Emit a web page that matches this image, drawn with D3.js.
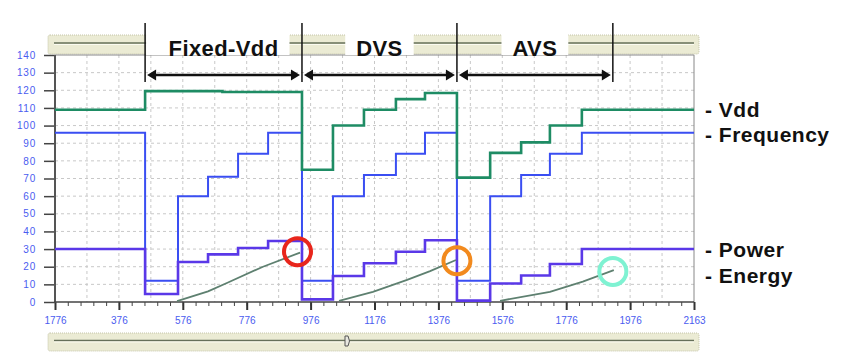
<!DOCTYPE html>
<html>
<head>
<meta charset="utf-8">
<script src="https://cdn.jsdelivr.net/npm/d3@7"></script>
<style>
  body { margin: 0; background: #fff; }
  svg { display: block; font-family: 'Liberation Sans', Arial, sans-serif; }
  .grid line { stroke: #c8c8c8; stroke-dasharray: 3, 3; }
  .tickLabel { fill: #4a5cf0; font-size: 10px; }
</style>
</head>
<body>
<svg id="chart" width="850" height="362"></svg>
<script>
// data (x = sample index, y = value)
const yTicks = [0, 10, 20, 30, 40, 50, 60, 70, 80, 90, 100, 110, 120, 130, 140];
const xTicks = [176, 376, 576, 776, 976, 1176, 1376, 1576, 1776, 1976, 2176];
const xTickLabels = ['1776', '376', '576', '776', '976', '1176', '1376', '1576', '1776', '1976', '2163'];

const phaseBounds = [458, 949, 1434, 1922];
const phaseNames = ['Fixed-Vdd', 'DVS', 'AVS'];

const vdd = [[176, 109], [458, 119.5], [700, 119], [949, 75], [1046, 100], [1143, 109], [1243, 115],
  [1334, 118.5], [1434, 70.5], [1538, 84.5], [1635, 90.5], [1725, 100], [1825, 109], [2176, 109]];
const freq = [[176, 96], [458, 12], [561, 60], [655, 71], [749, 84], [843, 96], [949, 12], [1046, 60],
  [1143, 72], [1243, 84], [1334, 96], [1434, 12], [1538, 60], [1635, 72], [1725, 84], [1825, 96], [2176, 96]];
const power = [[176, 30], [458, 4.5], [561, 22.7], [655, 27], [749, 30.6], [843, 34.6], [949, 1.5],
  [1046, 14.7], [1143, 22], [1243, 28.5], [1334, 35], [1434, 0.8], [1538, 10.5], [1635, 15],
  [1725, 21.5], [1825, 30], [2176, 30]];
const energy = [
  [[558, 0.5], [655, 6], [714, 10.8], [827, 20], [943, 28]],
  [[1065, 0.7], [1171, 5.8], [1278, 12.5], [1350, 17.5], [1431, 23.8]],
  [[1569, 0.7], [1725, 5.8], [1828, 11.5], [1925, 18.1]]
];
const marks = [[935, 28.5, '#e8261c'], [1434, 23.4, '#f28a1e'], [1922, 17.3, '#7ff2d2']];

const seriesLabels = [['- Vdd', 109], ['- Frequency', 95], ['- Power', 30], ['- Energy', 15]];

const colors = { vdd: '#1e8c64', freq: '#3a4ef2', power: '#5a38e8', energy: '#5e8070' };

const svg = d3.select('#chart');

const xScale = d3.scaleLinear().domain([176, 2176]).range([55, 694]);
const yScale = d3.scaleLinear().domain([0, 140]).range([302, 55]);

// top and bottom bars
function drawBar(y, h) {
  const g = svg.append('g');
  g.append('rect')
    .attr('x', 48).attr('y', y).attr('width', 651).attr('height', h).attr('rx', 2)
    .attr('fill', '#ebebd4').attr('stroke', '#c4c4a8').attr('stroke-dasharray', '1,1');
  g.append('line')
    .attr('x1', 54).attr('x2', 694).attr('y1', y + h / 2 - 1.5).attr('y2', y + h / 2 - 1.5)
    .attr('stroke', '#66705a').attr('stroke-width', 1.3);
  g.append('line')
    .attr('x1', 54).attr('x2', 694).attr('y1', y + h / 2).attr('y2', y + h / 2)
    .attr('stroke', '#fbfbf0').attr('stroke-width', 1);
  return g;
}
drawBar(35, 19);
const bottomBar = drawBar(333, 18);
bottomBar.append('path')
  .attr('d', 'M345,336 h3 q3,5 0,10 h-3 z')
  .attr('fill', '#e8e8e0').attr('stroke', '#555').attr('stroke-width', 1);

// grid
svg.append('g').attr('class', 'grid')
  .selectAll('line').data(yTicks.filter(d => d > 0 && d < 140)).join('line')
  .attr('x1', 55).attr('x2', 694)
  .attr('y1', d => yScale(d)).attr('y2', d => yScale(d));
svg.append('g').attr('class', 'grid')
  .selectAll('line').data(d3.range(276, 2176, 100)).join('line')
  .attr('x1', d => xScale(d)).attr('x2', d => xScale(d))
  .attr('y1', 55).attr('y2', 302);

// frame
svg.append('line').attr('x1', 55).attr('x2', 694).attr('y1', 55).attr('y2', 55).attr('stroke', '#888');
svg.append('line').attr('x1', 694).attr('x2', 694).attr('y1', 55).attr('y2', 302).attr('stroke', '#888');

// axes
const yAxis = svg.append('g')
  .attr('transform', 'translate(55,0)')
  .call(d3.axisLeft(yScale).tickValues(yTicks).tickSize(11).tickPadding(8));
yAxis.select('.domain').remove();
yAxis.selectAll('.tick line').attr('stroke', '#444').attr('stroke-width', 1.5);
yAxis.selectAll('.tick text').attr('class', 'tickLabel').attr('font-family', null).attr('font-size', null)
  .style('letter-spacing', '0.8px');

const xMinor = svg.append('g')
  .attr('transform', 'translate(0,302)')
  .call(d3.axisBottom(xScale).tickValues(d3.range(216, 2176, 40)).tickSize(4).tickFormat(''));
xMinor.select('.domain').remove();
xMinor.selectAll('.tick line').attr('stroke', '#444');

const xAxis = svg.append('g')
  .attr('transform', 'translate(0,302)')
  .call(d3.axisBottom(xScale).tickValues(xTicks).tickSize(8).tickPadding(7)
    .tickFormat((d, i) => xTickLabels[i]));
xAxis.select('.domain').remove();
xAxis.selectAll('.tick line').attr('stroke', '#333').attr('stroke-width', 2);
xAxis.selectAll('.tick text').attr('class', 'tickLabel').attr('font-family', null).attr('font-size', null);

svg.append('line').attr('x1', 55).attr('x2', 55).attr('y1', 55).attr('y2', 303)
  .attr('stroke', '#555').attr('stroke-width', 2);
svg.append('line').attr('x1', 54).attr('x2', 694).attr('y1', 302).attr('y2', 302)
  .attr('stroke', '#444').attr('stroke-width', 1.5);

// lines
const stepLine = d3.line()
  .x(d => xScale(d[0]))
  .y(d => yScale(d[1]))
  .curve(d3.curveStepAfter);
const smoothLine = d3.line()
  .x(d => xScale(d[0]))
  .y(d => yScale(d[1]));

svg.append('path').datum(freq).attr('d', stepLine)
  .attr('fill', 'none').attr('stroke', colors.freq).attr('stroke-width', 2);
svg.append('path').datum(power).attr('d', stepLine)
  .attr('fill', 'none').attr('stroke', colors.power).attr('stroke-width', 2.6);
svg.append('path').datum(vdd).attr('d', stepLine)
  .attr('fill', 'none').attr('stroke', colors.vdd).attr('stroke-width', 2.6);
svg.append('g').selectAll('path').data(energy).join('path')
  .attr('d', smoothLine)
  .attr('fill', 'none').attr('stroke', colors.energy).attr('stroke-width', 1.8);

// highlight circles
svg.append('g').selectAll('circle').data(marks).join('circle')
  .attr('cx', d => xScale(d[0])).attr('cy', d => yScale(d[1])).attr('r', 13.5)
  .attr('fill', 'none').attr('stroke', d => d[2]).attr('stroke-width', 4);

// phase annotations
const ann = svg.append('g');
ann.selectAll('line.bound').data(phaseBounds).join('line').attr('class', 'bound')
  .attr('x1', d => xScale(d)).attr('x2', d => xScale(d))
  .attr('y1', 23).attr('y2', 82)
  .attr('stroke', '#111').attr('stroke-width', 1.5);

phaseNames.forEach((name, i) => {
  const x0 = xScale(phaseBounds[i]);
  const x1 = xScale(phaseBounds[i + 1]);
  const cx = (x0 + x1) / 2;
  const box = ann.append('rect').attr('fill', '#fff');
  const t = ann.append('text')
    .attr('x', cx).attr('y', 56)
    .attr('text-anchor', 'middle')
    .attr('font-size', 22).attr('font-weight', 'bold').attr('fill', '#111')
    .style('letter-spacing', '0.4px')
    .text(name);
  const bb = t.node().getBBox();
  const left = i === 0 ? x0 + 1 : bb.x - 11;
  box.attr('x', left).attr('y', 33).attr('width', bb.x + bb.width + 11 - left).attr('height', 22);

  // double arrow
  const ay = 75;
  ann.append('line')
    .attr('x1', x0 + 6).attr('x2', x1 - 6).attr('y1', ay).attr('y2', ay)
    .attr('stroke', '#111').attr('stroke-width', 2.5);
  ann.append('path')
    .attr('d', `M${x0 + 2},${ay} l9,-5.5 v11 z M${x1 - 2},${ay} l-9,-5.5 v11 z`)
    .attr('fill', '#111');
});

// series names on the right
svg.append('g').selectAll('text').data(seriesLabels).join('text')
  .attr('x', 705).attr('y', d => yScale(d[1]))
  .attr('dy', '0.36em')
  .attr('font-size', 21).attr('font-weight', 'bold').attr('fill', '#111')
  .style('letter-spacing', '0.5px')
  .text(d => d[0]);
</script>
</body>
</html>
